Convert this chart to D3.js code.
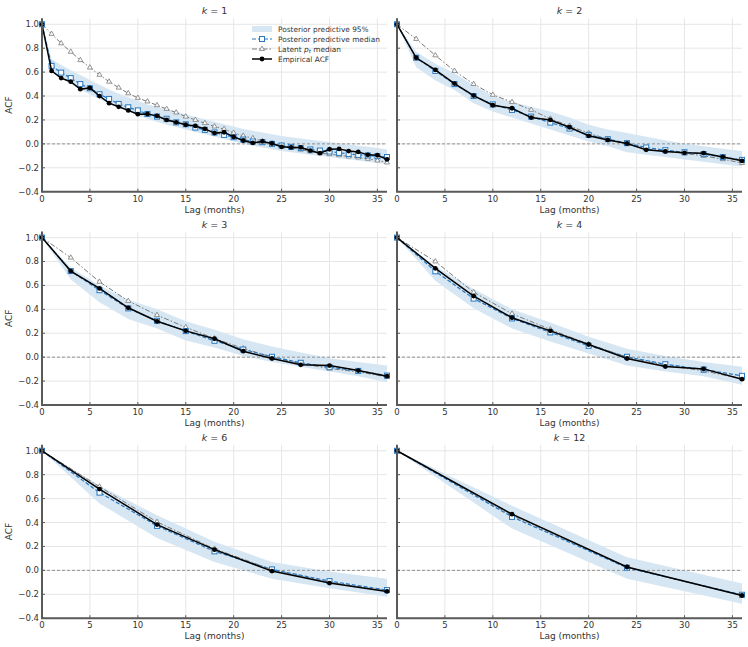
<!DOCTYPE html>
<html>
<head>
<meta charset="utf-8">
<script src="https://cdn.jsdelivr.net/npm/d3@7"></script>
<style>
  body { margin: 0; background: #fff; }
  svg text { font-family: 'DejaVu Sans', sans-serif; fill: #333; }
</style>
</head>
<body>
<div id="chart"><svg></svg></div>
<script>
// Aggregation steps shown in the six panels
const steps = [1, 2, 3, 4, 6, 12];

// Empirical ACF (one value per lag 0, k, 2k, ... 36)
const empK1 = [1.0, 0.61, 0.55, 0.52, 0.457, 0.468, 0.40, 0.34, 0.31, 0.28, 0.248, 0.25, 0.234, 0.20, 0.18, 0.16, 0.15, 0.125, 0.09, 0.097, 0.058, 0.028, 0.008, 0.02, 0.003, -0.025, -0.03, -0.03, -0.056, -0.078, -0.045, -0.042, -0.06, -0.067, -0.092, -0.095, -0.13];
const empK2 = [1.0, 0.72, 0.618, 0.504, 0.404, 0.323, 0.298, 0.22, 0.20, 0.139, 0.067, 0.033, 0.003, -0.05, -0.064, -0.075, -0.078, -0.109, -0.142];
const empK3 = [1.0, 0.72, 0.575, 0.413, 0.30, 0.22, 0.154, 0.05, -0.011, -0.064, -0.07, -0.112, -0.159];
const empK4 = [1.0, 0.743, 0.511, 0.33, 0.22, 0.106, -0.011, -0.078, -0.098, -0.184];
const empK6 = [1.0, 0.68, 0.383, 0.173, -0.006, -0.106, -0.176];
const empK12 = [1.0, 0.47, 0.028, -0.21];

// Posterior predictive median
const medK1 = [1.0, 0.652, 0.596, 0.55, 0.50, 0.465, 0.415, 0.376, 0.334, 0.306, 0.28, 0.25, 0.228, 0.21, 0.18, 0.164, 0.136, 0.117, 0.095, 0.075, 0.056, 0.036, 0.02, 0.014, 0.0, -0.014, -0.025, -0.036, -0.047, -0.056, -0.064, -0.075, -0.084, -0.092, -0.097, -0.103, -0.11];
const medK2 = [1.0, 0.72, 0.61, 0.50, 0.40, 0.33, 0.284, 0.228, 0.178, 0.128, 0.075, 0.039, 0.006, -0.03, -0.053, -0.07, -0.086, -0.111, -0.134];
const medK3 = [1.0, 0.72, 0.56, 0.408, 0.304, 0.218, 0.137, 0.064, 0.003, -0.047, -0.084, -0.115, -0.154];
const medK4 = [1.0, 0.718, 0.49, 0.324, 0.207, 0.095, 0.003, -0.059, -0.103, -0.156];
const medK6 = [1.0, 0.65, 0.372, 0.159, 0.008, -0.09, -0.165];
const medK12 = [1.0, 0.447, 0.022, -0.204];

// Latent p_t median
const latK1 = [1.0, 0.919, 0.84, 0.77, 0.70, 0.638, 0.577, 0.52, 0.47, 0.423, 0.384, 0.354, 0.323, 0.292, 0.262, 0.228, 0.20, 0.173, 0.145, 0.123, 0.092, 0.067, 0.047, 0.022, 0.003, -0.014, -0.03, -0.047, -0.064, -0.078, -0.086, -0.095, -0.106, -0.114, -0.125, -0.139, -0.156];
const latK2 = [1.0, 0.877, 0.74, 0.61, 0.50, 0.41, 0.35, 0.284, 0.21, 0.15, 0.089, 0.039, 0.0, -0.042, -0.061, -0.08, -0.10, -0.128, -0.16];
const latK3 = [1.0, 0.832, 0.63, 0.47, 0.352, 0.25, 0.156, 0.073, 0.0, -0.053, -0.095, -0.123, -0.165];
const latK4 = [1.0, 0.80, 0.543, 0.363, 0.232, 0.109, 0.0, -0.067, -0.115, -0.18];
const latK6 = [1.0, 0.70, 0.405, 0.18, 0.006, -0.10, -0.173];
const latK12 = [1.0, 0.46, 0.025, -0.21];

// Posterior predictive 95% band, lower and upper
const loK1 = [1.0, 0.60, 0.545, 0.50, 0.455, 0.415, 0.375, 0.34, 0.305, 0.27, 0.235, 0.21, 0.185, 0.16, 0.14, 0.12, 0.10, 0.08, 0.06, 0.04, 0.02, 0.0, -0.015, -0.03, -0.045, -0.06, -0.07, -0.08, -0.09, -0.10, -0.11, -0.12, -0.13, -0.14, -0.15, -0.16, -0.17];
const hiK1 = [1.0, 0.71, 0.66, 0.615, 0.575, 0.535, 0.495, 0.455, 0.42, 0.39, 0.36, 0.33, 0.31, 0.29, 0.27, 0.245, 0.225, 0.205, 0.185, 0.165, 0.145, 0.125, 0.11, 0.095, 0.08, 0.065, 0.055, 0.045, 0.035, 0.025, 0.015, 0.005, -0.005, -0.015, -0.025, -0.035, -0.045];
const loK2 = [1.0, 0.64, 0.53, 0.45, 0.34, 0.27, 0.22, 0.17, 0.12, 0.07, 0.02, -0.02, -0.07, -0.09, -0.11, -0.13, -0.15, -0.17, -0.19];
const hiK2 = [1.0, 0.77, 0.67, 0.59, 0.49, 0.40, 0.35, 0.31, 0.27, 0.22, 0.16, 0.12, 0.09, 0.06, 0.03, 0.0, -0.02, -0.04, -0.06];
const loK3 = [1.0, 0.65, 0.46, 0.32, 0.24, 0.14, 0.08, 0.01, -0.04, -0.08, -0.12, -0.16, -0.21];
const hiK3 = [1.0, 0.75, 0.60, 0.48, 0.40, 0.30, 0.23, 0.15, 0.09, 0.04, -0.01, -0.04, -0.07];
const loK4 = [1.0, 0.64, 0.41, 0.24, 0.13, 0.03, -0.07, -0.12, -0.16, -0.23];
const hiK4 = [1.0, 0.76, 0.57, 0.40, 0.29, 0.17, 0.07, 0.01, -0.04, -0.08];
const loK6 = [1.0, 0.56, 0.27, 0.07, -0.07, -0.15, -0.22];
const hiK6 = [1.0, 0.71, 0.46, 0.24, 0.07, -0.01, -0.07];
const loK12 = [1.0, 0.35, -0.07, -0.28];
const hiK12 = [1.0, 0.54, 0.11, -0.11];

const xTicks = [0, 5, 10, 15, 20, 25, 30, 35];
const yTicks = [-0.4, -0.2, 0.0, 0.2, 0.4, 0.6, 0.8, 1.0];

const panels = [
  { k: steps[0], emp: empK1, med: medK1, lat: latK1, lo: loK1, hi: hiK1 },
  { k: steps[1], emp: empK2, med: medK2, lat: latK2, lo: loK2, hi: hiK2 },
  { k: steps[2], emp: empK3, med: medK3, lat: latK3, lo: loK3, hi: hiK3 },
  { k: steps[3], emp: empK4, med: medK4, lat: latK4, lo: loK4, hi: hiK4 },
  { k: steps[4], emp: empK6, med: medK6, lat: latK6, lo: loK6, hi: hiK6 },
  { k: steps[5], emp: empK12, med: medK12, lat: latK12, lo: loK12, hi: hiK12 },
];

// Colours
const bandColor = '#d6e6f2';
const medColor = '#2878c0';
const latColor = '#7a7a7a';
const empColor = '#000';
const gridColor = '#e6e6e6';
const axisColor = '#5a5a5a';

const width = 748;
const height = 647;
const colLeft = [42, 397];
const rowTop = [18.3, 231.6, 444.8];
const pw = 345;
const ph = 173.4;

const svg = d3.select('#chart').select('svg')
  .attr('width', width)
  .attr('height', height);

svg.append('rect')
  .attr('width', width)
  .attr('height', height)
  .attr('fill', '#fff');

const x = d3.scaleLinear().domain([0, 36]).range([0, pw]);
const y = d3.scaleLinear().domain([-0.4, 1.05]).range([ph, 0]);

const fmt = v => d3.format('.1f')(v).replace('-', '\u2212');

// marker drawing helpers
const trianglePath = d3.symbol().type(d3.symbolTriangle).size(11);

panels.forEach((p, i) => {
  const col = i % 2;
  const row = Math.floor(i / 2);
  const g = svg.append('g')
    .attr('transform', `translate(${colLeft[col]},${rowTop[row]})`);

  const lags = d3.range(0, 37, p.k);

  // grid
  g.selectAll('.vgrid').data(xTicks).enter()
    .append('line')
    .attr('x1', d => x(d)).attr('x2', d => x(d))
    .attr('y1', 0).attr('y2', ph)
    .attr('stroke', gridColor).attr('stroke-width', 1);
  g.selectAll('.hgrid').data(yTicks).enter()
    .append('line')
    .attr('x1', 0).attr('x2', pw)
    .attr('y1', d => y(d)).attr('y2', d => y(d))
    .attr('stroke', gridColor).attr('stroke-width', 1);

  // 95% band
  const area = d3.area()
    .x((d, j) => x(lags[j]))
    .y0(d => y(d[0]))
    .y1(d => y(d[1]));
  g.append('path')
    .datum(p.lo.map((v, j) => [v, p.hi[j]]))
    .attr('d', area)
    .attr('fill', bandColor);

  // zero line
  g.append('line')
    .attr('x1', 0).attr('x2', pw)
    .attr('y1', y(0)).attr('y2', y(0))
    .attr('stroke', '#888')
    .attr('stroke-width', 0.9)
    .attr('stroke-dasharray', '3,2');

  const line = d3.line()
    .x((d, j) => x(lags[j]))
    .y(d => y(d));

  // Latent p_t median
  g.append('path')
    .datum(p.lat)
    .attr('d', line)
    .attr('fill', 'none')
    .attr('stroke', latColor)
    .attr('stroke-width', 1)
    .attr('stroke-dasharray', '5,2,1.5,2');
  g.selectAll('.tri').data(p.lat).enter()
    .append('path')
    .attr('d', trianglePath)
    .attr('transform', (d, j) => `translate(${x(lags[j])},${y(d)})`)
    .attr('fill', '#fff')
    .attr('stroke', latColor)
    .attr('stroke-width', 0.8);

  // Posterior predictive median
  g.append('path')
    .datum(p.med)
    .attr('d', line)
    .attr('fill', 'none')
    .attr('stroke', medColor)
    .attr('stroke-width', 1.2)
    .attr('stroke-dasharray', '4,2');
  g.selectAll('.sq').data(p.med).enter()
    .append('rect')
    .attr('x', (d, j) => x(lags[j]) - 2.5)
    .attr('y', d => y(d) - 2.5)
    .attr('width', 5).attr('height', 5)
    .attr('fill', '#fff')
    .attr('stroke', medColor)
    .attr('stroke-width', 1);

  // Empirical ACF
  g.append('path')
    .datum(p.emp)
    .attr('d', line)
    .attr('fill', 'none')
    .attr('stroke', empColor)
    .attr('stroke-width', 1.5);
  g.selectAll('.dot').data(p.emp).enter()
    .append('circle')
    .attr('cx', (d, j) => x(lags[j]))
    .attr('cy', d => y(d))
    .attr('r', 2.4)
    .attr('fill', empColor);

  // axes lines
  g.append('line')
    .attr('x1', 0).attr('x2', 0).attr('y1', 0).attr('y2', ph)
    .attr('stroke', axisColor).attr('stroke-width', 2);
  g.append('line')
    .attr('x1', -1).attr('x2', pw).attr('y1', ph).attr('y2', ph)
    .attr('stroke', axisColor).attr('stroke-width', 2);

  // ticks (inward)
  g.selectAll('.xt').data(xTicks).enter()
    .append('line')
    .attr('x1', d => x(d)).attr('x2', d => x(d))
    .attr('y1', ph).attr('y2', ph - 3)
    .attr('stroke', axisColor).attr('stroke-width', 1);
  g.selectAll('.yt').data(yTicks).enter()
    .append('line')
    .attr('x1', 0).attr('x2', 3)
    .attr('y1', d => y(d)).attr('y2', d => y(d))
    .attr('stroke', axisColor).attr('stroke-width', 1);

  // x tick labels
  g.selectAll('.xl').data(xTicks).enter()
    .append('text')
    .attr('x', d => x(d))
    .attr('y', ph + 10)
    .attr('text-anchor', 'middle')
    .style('font-size', '8.5px')
    .text(d => d);

  // y tick labels on left column only
  if (col === 0) {
    g.selectAll('.yl').data(yTicks).enter()
      .append('text')
      .attr('x', -3)
      .attr('y', d => y(d) + 3)
      .attr('text-anchor', 'end')
      .style('font-size', '8.5px')
      .text(d => fmt(d));

    g.append('text')
      .attr('transform', `translate(${-30},${ph / 2}) rotate(-90)`)
      .attr('text-anchor', 'middle')
      .style('font-size', '9px')
      .text('ACF');
  }

  g.append('text')
    .attr('x', pw / 2)
    .attr('y', ph + 21)
    .attr('text-anchor', 'middle')
    .style('font-size', '9px')
    .text('Lag (months)');

  // title
  const title = g.append('text')
    .attr('x', pw / 2)
    .attr('y', -4)
    .attr('text-anchor', 'middle')
    .style('font-size', '9.5px');
  title.append('tspan').style('font-style', 'italic').text('k');
  title.append('tspan').text(` = ${p.k}`);
});

// Legend in the first panel
const legend = svg.append('g')
  .attr('transform', 'translate(252,29)');
const legendFont = '7.4px';

const items = [
  { type: 'band' },
  { type: 'med', label: 'Posterior predictive median' },
  { type: 'lat' },
  { type: 'emp', label: 'Empirical ACF' },
];

items.forEach((it, i) => {
  const row = legend.append('g').attr('transform', `translate(0,${i * 10})`);
  if (it.type === 'band') {
    row.append('rect')
      .attr('x', 0).attr('y', -3)
      .attr('width', 20).attr('height', 6)
      .attr('fill', bandColor);
  } else if (it.type === 'med') {
    row.append('line').attr('x1', 0).attr('x2', 20)
      .attr('stroke', medColor).attr('stroke-width', 1.2)
      .attr('stroke-dasharray', '4,2');
    row.append('rect').attr('x', 7.5).attr('y', -2.5)
      .attr('width', 5).attr('height', 5)
      .attr('fill', '#fff').attr('stroke', medColor);
  } else if (it.type === 'lat') {
    row.append('line').attr('x1', 0).attr('x2', 20)
      .attr('stroke', latColor).attr('stroke-width', 1)
      .attr('stroke-dasharray', '5,2,1.5,2');
    row.append('path').attr('d', trianglePath)
      .attr('transform', 'translate(10,0)')
      .attr('fill', '#fff').attr('stroke', latColor).attr('stroke-width', 0.8);
  } else {
    row.append('line').attr('x1', 0).attr('x2', 20)
      .attr('stroke', empColor).attr('stroke-width', 1.5);
    row.append('circle').attr('cx', 10).attr('r', 2.4).attr('fill', empColor);
  }

  const t = row.append('text')
    .attr('x', 26)
    .attr('y', 2.6)
    .style('font-size', legendFont);
  if (it.type === 'band') {
    t.text('Posterior predictive 95%');
  } else if (it.type === 'lat') {
    t.append('tspan').text('Latent ');
    t.append('tspan').style('font-style', 'italic').text('p');
    t.append('tspan').attr('dy', 1.5).style('font-size', '5.5px').style('font-style', 'italic').text('t');
    t.append('tspan').attr('dy', -1.5).text(' median');
  } else {
    t.text(it.label);
  }
});
</script>
</body>
</html>
